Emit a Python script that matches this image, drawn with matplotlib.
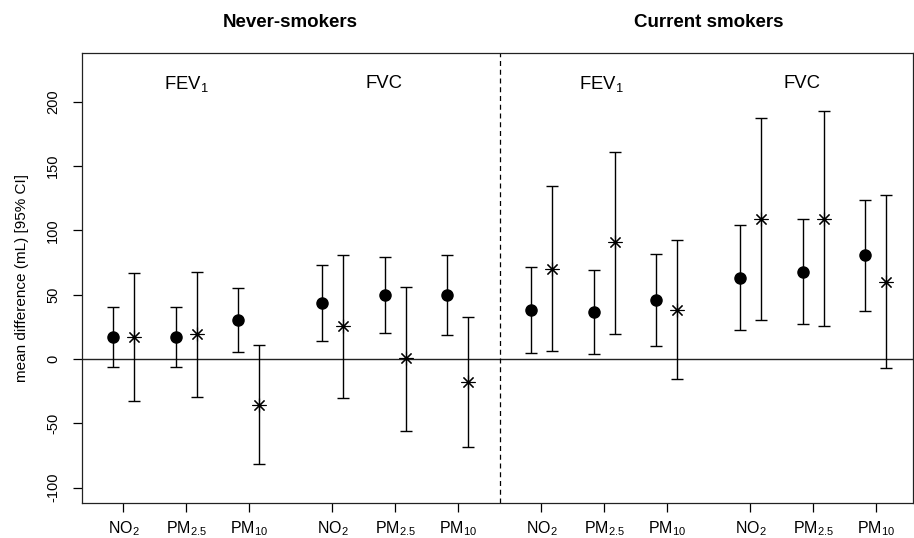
import numpy as np
import matplotlib
matplotlib.use('Agg')
import matplotlib.pyplot as plt
import matplotlib.transforms as transforms

plt.rcParams['font.family'] = ['Liberation Sans', 'DejaVu Sans']
plt.rcParams['mathtext.fontset'] = 'custom'
plt.rcParams['mathtext.rm'] = 'Liberation Sans'
plt.rcParams['mathtext.it'] = 'Liberation Sans:italic'
plt.rcParams['mathtext.bf'] = 'Liberation Sans:bold'

# Data (mL)
pollutants = [r'NO$_\mathrm{2}$', r'PM$_\mathrm{2.5}$', r'PM$_\mathrm{10}$']
outcomes = ['FEV$_\\mathrm{1}$', 'FVC']
groups = ['Never-smokers', 'Current smokers']

dot_mean = [17.4, 17.4, 30.4, 43.3, 49.8, 49.8, 38.1, 36.3, 45.9, 63.0, 67.4, 80.7]
dot_lo = [-6.0, -6.0, 5.4, 14.0, 20.2, 18.9, 4.9, 4.2, 10.4, 22.6, 27.2, 37.4]
dot_hi = [40.5, 40.5, 55.0, 72.9, 79.1, 80.7, 71.6, 69.3, 81.5, 104.0, 108.7, 123.7]
star_mean = [17.4, 19.5, -35.5, 25.7, 0.5, -17.6, 70.0, 91.0, 38.1, 108.7, 108.7, 59.7]
star_lo = [-32.4, -29.3, -81.5, -30.4, -55.8, -68.2, 6.2, 19.5, -15.6, 30.4, 25.9, -7.0]
star_hi = [66.7, 67.7, 11.2, 80.7, 55.8, 32.7, 134.4, 161.0, 92.3, 187.5, 192.5, 127.4]

# x positions: 3 pollutants per outcome block, a wider gap between blocks
n_blocks = len(groups) * len(outcomes)
gap = 1.335
pos = np.array([1 + b * (2 + gap) + k for b in range(n_blocks) for k in range(3)])
off = 0.167

dot_mean = np.array(dot_mean)
star_mean = np.array(star_mean)
dot_err = [dot_mean - np.array(dot_lo), np.array(dot_hi) - dot_mean]
star_err = [star_mean - np.array(star_lo), np.array(star_hi) - star_mean]

fig = plt.figure(figsize=(9.14, 5.38), dpi=100)
ax = fig.add_axes([0.0893, 0.065, 0.9097, 0.8365])

ax.axhline(0, color='#222222', lw=1.0, zorder=1)
split = (pos[5] + pos[6]) / 2
ax.axvline(split, color='black', lw=0.9, ls=(0, (4, 3)), zorder=1)

ax.errorbar(pos - off, dot_mean, yerr=dot_err, fmt='o', color='black',
            markersize=8, elinewidth=1.0, capsize=4.6, capthick=1.0, zorder=3)
ax.errorbar(pos + off, star_mean, yerr=star_err, fmt='none', ecolor='black',
            elinewidth=1.0, capsize=4.6, capthick=1.0, zorder=3)
ax.plot(pos + off, star_mean, linestyle='none', marker=(8, 2, 0), markersize=10,
        markeredgewidth=0.8, color='black', zorder=4)

ax.set_xlim(0.333, 13.6)
ax.set_ylim(-112, 238)
ax.set_xticks(pos)
ax.set_xticklabels(pollutants * n_blocks, fontsize=11.5)
ax.set_yticks(np.arange(-100, 201, 50))
ax.set_yticklabels([str(v) for v in range(-100, 201, 50)], rotation=90,
                   va='center', fontsize=10.5)
ax.tick_params(axis='x', length=6.5, width=0.9, pad=5)
ax.tick_params(axis='y', length=6.5, width=0.9, pad=9)
ax.set_ylabel('mean difference (mL) [95% CI]', fontsize=11, labelpad=12)
for s in ax.spines.values():
    s.set_linewidth(0.9)
    s.set_color('#222222')

# outcome labels inside the panel
out_x = [2.0, 5.15, 8.63, 11.82]
for i, x in enumerate(out_x):
    ax.text(x, 214, outcomes[i % 2], fontsize=13.3, ha='center', va='center')

# group titles above the panel
trans = transforms.blended_transform_factory(ax.transData, ax.transAxes)
for g, name in enumerate(groups):
    xc = (pos[6 * g] + pos[6 * g + 5]) / 2
    ax.text(xc, 1.068, name, transform=trans, fontsize=13.5, fontweight='bold',
            ha='center', va='center', clip_on=False)

fig.savefig('out.png', dpi=100)
